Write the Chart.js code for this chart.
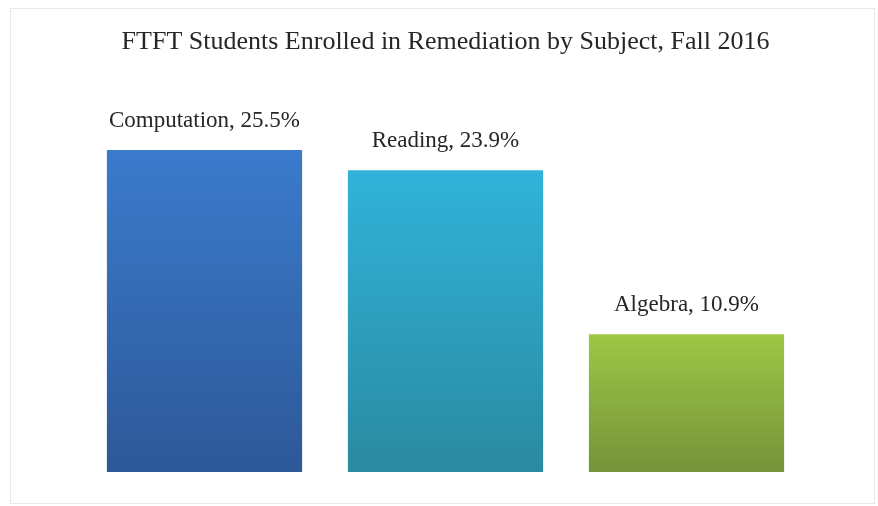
<!DOCTYPE html>
<html>
<head>
<meta charset="utf-8">
<script src="https://cdn.jsdelivr.net/npm/chart.js@4/dist/chart.umd.min.js"></script>
<style>
    html, body { margin: 0; padding: 0; background: #fff; }
    #wrap { position: absolute; left: 10px; top: 8px; width: 863px; height: 494px; border: 1px solid #e8e8e8; }
    #c { position: absolute; left: 0; top: 0; }
</style>
</head>
<body>
<div id="wrap"></div>
<canvas id="c" width="878" height="506"></canvas>
<script>
var subjects = ["Computation", "Reading", "Algebra"];
var percents = [25.5, 23.9, 10.9];
var topColors = ["#3b7bcc", "#31b3da", "#9dc745"];
var bottomColors = ["#2d5898", "#2a8aa0", "#75933a"];

function barGradient(context) {
    var chart = context.chart;
    var area = chart.chartArea;
    if (!area) return topColors[context.dataIndex];
    var yTop = chart.scales.y.getPixelForValue(percents[context.dataIndex]);
    var yBottom = chart.scales.y.getPixelForValue(0);
    var g = chart.ctx.createLinearGradient(0, yTop, 0, yBottom);
    g.addColorStop(0, topColors[context.dataIndex]);
    g.addColorStop(1, bottomColors[context.dataIndex]);
    return g;
}

// label above each bar: "Name, 25.5%"
var barLabels = {
    id: 'barLabels',
    afterDatasetsDraw: function(chart) {
        var ctx = chart.ctx;
        var meta = chart.getDatasetMeta(0);
        ctx.save();
        ctx.font = '23px "Liberation Serif", "Times New Roman", serif';
        ctx.fillStyle = '#262626';
        ctx.textAlign = 'center';
        ctx.textBaseline = 'middle';
        meta.data.forEach(function(bar, i) {
            ctx.fillText(subjects[i] + ', ' + percents[i] + '%', bar.x, bar.y - 29);
        });
        ctx.restore();
    }
};

var ctx = document.getElementById("c");

var remediationChart = new Chart(ctx, {
    type: 'bar',
    data: {
        labels: subjects,
        datasets: [
            {
                label: "Enrolled",
                data: percents,
                backgroundColor: barGradient,
                borderWidth: 0,
                categoryPercentage: 1,
                barPercentage: 0.81
            }
        ]
    },
    options: {
        responsive: false,
        animation: false,
        layout: {
            padding: { left: 84, right: 71, top: 0, bottom: 34 }
        },
        plugins: {
            legend: { display: false },
            tooltip: { enabled: false },
            title: {
                display: true,
                text: "FTFT Students Enrolled in Remediation by Subject, Fall 2016",
                color: '#262626',
                font: { family: '"Liberation Serif", "Times New Roman", serif', size: 26, weight: 'normal' },
                padding: { top: 27, bottom: 35 }
            }
        },
        scales: {
            x: { display: false },
            y: { display: false, min: 0, max: 30 }
        }
    },
    plugins: [barLabels]
});
</script>
</body>
</html>
